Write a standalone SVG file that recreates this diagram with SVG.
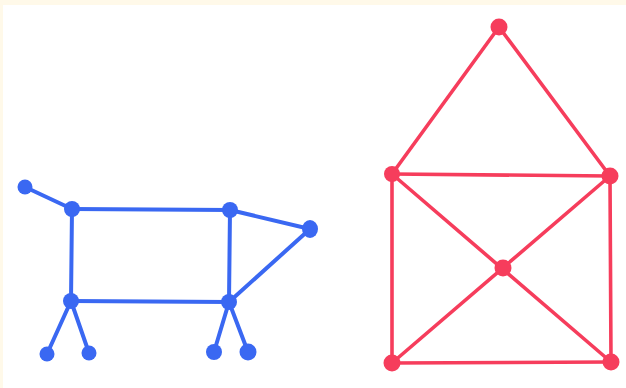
<svg xmlns="http://www.w3.org/2000/svg" width="626" height="388" viewBox="0 0 626 388">
<style>
.b{stroke:#3a68f2;stroke-width:4;stroke-linecap:round}
.r{stroke:#f63d5c;stroke-width:3.6;stroke-linecap:round}
.bn{fill:#3a68f2}
.rn{fill:#f63d5c}
</style>
<rect x="0" y="0" width="626" height="388" fill="#fff9e9"/>
<rect x="3" y="5" width="623" height="383" fill="#ffffff"/>
<g id="connectors">
<line class="b" x1="25" y1="187" x2="72" y2="209"/>
<line class="b" x1="72" y1="209" x2="230" y2="210"/>
<line class="b" x1="230" y1="210" x2="310" y2="229"/>
<line class="b" x1="310" y1="229" x2="229" y2="302"/>
<line class="b" x1="72" y1="209" x2="71" y2="301"/>
<line class="b" x1="230" y1="210" x2="229" y2="302"/>
<line class="b" x1="71" y1="301" x2="229" y2="302"/>
<line class="b" x1="71" y1="301" x2="47" y2="354"/>
<line class="b" x1="71" y1="301" x2="89" y2="353"/>
<line class="b" x1="229" y1="302" x2="214" y2="352"/>
<line class="b" x1="229" y1="302" x2="248" y2="352"/>
<line class="r" x1="499" y1="27" x2="392" y2="174"/>
<line class="r" x1="499" y1="27" x2="610" y2="176"/>
<line class="r" x1="392" y1="174" x2="610" y2="176"/>
<line class="r" x1="392" y1="174" x2="392" y2="363"/>
<line class="r" x1="610" y1="176" x2="611" y2="362"/>
<line class="r" x1="392" y1="363" x2="611" y2="362"/>
<line class="r" x1="392" y1="174" x2="611" y2="362"/>
<line class="r" x1="610" y1="176" x2="392" y2="363"/>
</g>
<g id="tail"><circle class="bn" cx="25" cy="187" r="7.5"/></g>
<g id="a"><circle class="bn" cx="72" cy="209" r="8"/></g>
<g id="b"><circle class="bn" cx="230" cy="210" r="8"/></g>
<g id="nose"><ellipse class="bn" cx="310" cy="229" rx="8" ry="9"/></g>
<g id="d"><circle class="bn" cx="71" cy="301" r="8"/></g>
<g id="e"><circle class="bn" cx="229" cy="302" r="8"/></g>
<g id="leg1"><circle class="bn" cx="47" cy="354" r="7.5"/></g>
<g id="leg2"><circle class="bn" cx="89" cy="353" r="7.5"/></g>
<g id="leg3"><circle class="bn" cx="214" cy="352" r="8"/></g>
<g id="leg4"><circle class="bn" cx="248" cy="352" r="8.5"/></g>
<g id="apex"><circle class="rn" cx="499" cy="27" r="8.5"/></g>
<g id="tl"><circle class="rn" cx="392" cy="174" r="8"/></g>
<g id="tr"><circle class="rn" cx="610" cy="176" r="8.5"/></g>
<g id="center"><circle class="rn" cx="503" cy="268" r="8.5"/></g>
<g id="bl"><circle class="rn" cx="392" cy="363" r="8.5"/></g>
<g id="br"><circle class="rn" cx="611" cy="362" r="8.5"/></g>
</svg>
